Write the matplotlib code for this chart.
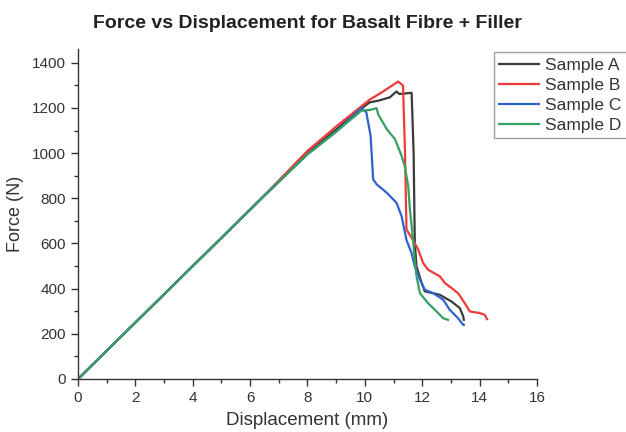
import matplotlib.pyplot as plt
from matplotlib.ticker import MultipleLocator

plt.rcParams['font.family'] = ['Liberation Sans', 'DejaVu Sans']

# Sample A
disp_a = [0, 1.6, 3.2, 4.8, 6.4, 8.0, 9.0, 9.8, 10.17, 10.46, 10.87, 11.1, 11.2, 11.63,
          11.70, 11.74, 11.8, 11.98, 12.09, 12.61, 13.02, 13.31, 13.43, 13.45]
force_a = [0, 200, 400, 600, 800, 1000, 1105, 1190, 1225, 1232, 1247, 1273, 1262, 1267,
           1000, 604, 499, 425, 388, 373, 343, 314, 277, 262]

# Sample B
disp_b = [0, 1.6, 3.2, 4.8, 6.4, 8.0, 9.0, 10.17, 10.6, 11.16, 11.33, 11.40, 11.45, 11.63,
          11.86, 12.03, 12.2, 12.61, 12.79, 13.25, 13.48, 13.66, 14.0, 14.18, 14.26]
force_b = [0, 200, 400, 600, 800, 1010, 1118, 1237, 1270, 1317, 1299, 1000, 662, 625,
           573, 514, 484, 455, 425, 380, 336, 299, 292, 284, 265]

# Sample C
disp_c = [0, 1.6, 3.2, 4.8, 6.4, 8.0, 9.0, 9.88, 10.05, 10.2, 10.29, 10.41, 10.76, 11.1,
          11.28, 11.45, 11.63, 11.74, 11.92, 12.09, 12.38, 12.73, 12.96, 13.25, 13.43, 13.45]
force_c = [0, 200, 400, 600, 800, 995, 1095, 1199, 1181, 1077, 884, 862, 825, 781,
           721, 616, 557, 499, 440, 395, 380, 351, 306, 269, 239, 240]

# Sample D
disp_d = [0, 1.6, 3.2, 4.8, 6.4, 8.0, 9.0, 9.88, 10.2, 10.41, 10.46, 10.76, 11.05, 11.28,
          11.39, 11.51, 11.57, 11.68, 11.74, 11.8, 11.92, 12.2, 12.5, 12.73, 12.9]
force_d = [0, 200, 400, 600, 800, 995, 1095, 1188, 1192, 1199, 1173, 1107, 1062, 988,
           943, 855, 751, 616, 527, 455, 380, 336, 299, 269, 262]

labels = ['Sample A', 'Sample B', 'Sample C', 'Sample D']
colors = ['#3a3a3a', '#f03a3a', '#2f62cc', '#35a060']

fig = plt.figure(figsize=(6.26, 4.32), dpi=100)
ax = fig.add_axes([0.1246, 0.1227, 0.7332, 0.7633])

series = [(disp_a, force_a), (disp_b, force_b), (disp_c, force_c), (disp_d, force_d)]
for (x, y), lab, col in zip(series, labels, colors):
    ax.plot(x, y, color=col, linewidth=1.6, label=lab)

ax.set_xlim(0, 16)
ax.set_ylim(0, 1460)
ax.xaxis.set_major_locator(MultipleLocator(2))
ax.xaxis.set_minor_locator(MultipleLocator(1))
ax.yaxis.set_major_locator(MultipleLocator(200))
ax.yaxis.set_minor_locator(MultipleLocator(100))

ax.spines['top'].set_visible(False)
ax.spines['right'].set_visible(False)
for side in ['left', 'bottom']:
    ax.spines[side].set_color('#333333')
    ax.spines[side].set_linewidth(1.0)
ax.tick_params(which='major', direction='out', length=5, width=1, color='#333333',
               labelsize=11, labelcolor='#333333')
ax.tick_params(which='minor', direction='out', length=3, width=1, color='#333333')

ax.set_xlabel('Displacement (mm)', fontsize=13.5, color='#333333', labelpad=5)
ax.set_ylabel('Force (N)', fontsize=13, color='#333333', labelpad=6)
ax.set_title('Force vs Displacement for Basalt Fibre + Filler', fontsize=14,
             fontweight='bold', color='#222222', pad=15)

leg = fig.legend(loc='upper left', bbox_to_anchor=(0.789, 0.879), fontsize=12.5,
                 frameon=True, fancybox=False, handlelength=2.3, labelspacing=0.28,
                 borderpad=0.3, handletextpad=0.35, borderaxespad=0)
leg.get_frame().set_edgecolor('#888888')
leg.get_frame().set_linewidth(1.0)
for t in leg.get_texts():
    t.set_color('#333333')

fig.savefig('out.png', dpi=100)
